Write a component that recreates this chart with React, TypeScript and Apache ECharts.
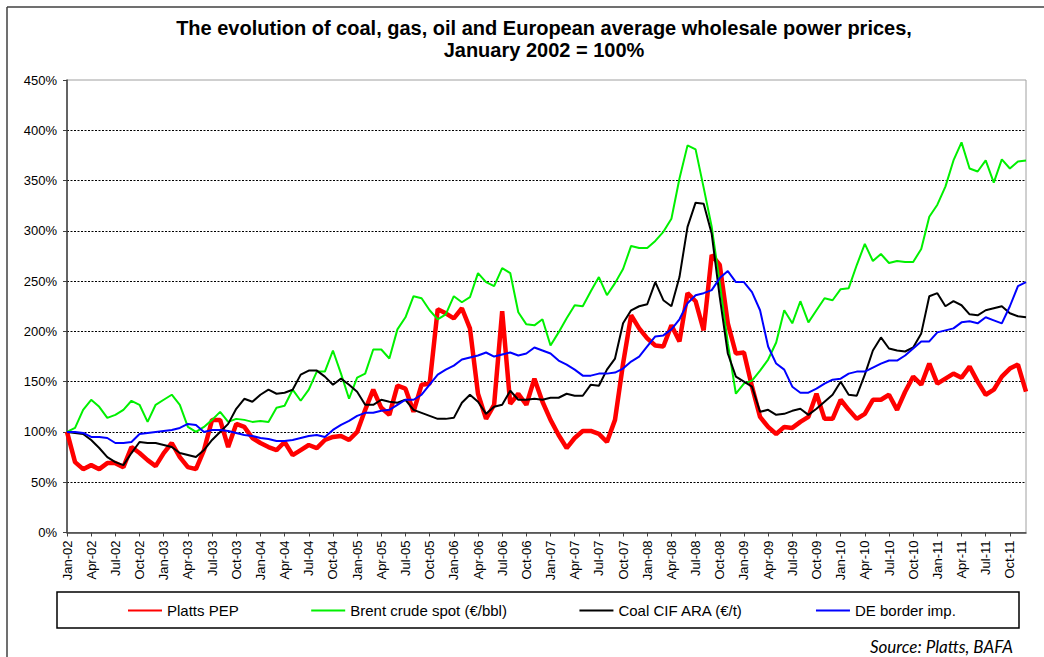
import React, { useEffect, useRef } from 'react';
import * as echarts from 'echarts';

const MONTHS = ['Jan', 'Feb', 'Mar', 'Apr', 'May', 'Jun', 'Jul', 'Aug', 'Sep', 'Oct', 'Nov', 'Dec'];
const YEARS = ['02', '03', '04', '05', '06', '07', '08', '09', '10', '11'];
const categories = YEARS.flatMap((y) => MONTHS.map((m) => `${m}-${y}`));

const plattsPep = [
  100, 70, 63, 67, 63, 69, 69, 65, 85, 79,
  72, 66, 79, 89, 75, 65, 63, 82, 112, 112,
  85, 108, 105, 94, 89, 85, 82, 90, 77, 82,
  87, 84, 92, 95, 96, 92, 100, 122, 142, 124,
  117, 146, 143, 120, 147, 148, 222, 218, 213, 223,
  203, 138, 113, 127, 220, 128, 138, 127, 153, 130,
  112, 97, 84, 94, 101, 101, 98, 90, 112, 168,
  216, 203, 193, 186, 185, 206, 190, 238, 230, 201,
  276, 266, 208, 178, 179, 145, 115, 105, 98, 105,
  104, 110, 115, 138, 113, 113, 132, 122, 113, 118,
  132, 132, 137, 122, 140, 155, 147, 168, 148, 153,
  158, 154, 165, 150, 137, 142, 155, 163, 167, 140,
];

const brentCrude = [
  100, 104, 122, 132, 125, 114, 117, 122, 131, 127,
  110, 127, 132, 137, 127, 105, 100, 105, 112, 120,
  110, 113, 112, 110, 111, 110, 124, 126, 142, 131,
  142, 160, 160, 181, 158, 133, 154, 158, 182, 182,
  173, 202, 214, 235, 233, 221, 212, 217, 235, 229,
  234, 258, 249, 245, 263, 258, 219, 207, 206, 212,
  186, 199, 213, 226, 225, 240, 254, 236, 248, 262,
  285, 283, 283, 290, 299, 312, 352, 385, 381, 343,
  304, 248, 188, 138, 148, 151, 161, 172, 189, 221,
  208, 230, 209, 221, 233, 231, 242, 243, 266, 287,
  270, 277, 268, 270, 269, 269, 282, 314, 326, 344,
  370, 388, 362, 359, 370, 348, 371, 362, 369, 370,
];

const coalCifAra = [
  100, 99, 98, 92, 84, 75, 70, 67, 79, 90,
  89, 89, 87, 85, 79, 77, 75, 82, 92, 100,
  108, 123, 133, 130, 137, 142, 138, 139, 142, 157,
  161, 161, 155, 147, 153, 147, 140, 127, 127, 132,
  130, 129, 132, 122, 119, 116, 113, 113, 114, 129,
  137, 130, 118, 125, 127, 141, 132, 132, 133, 132,
  134, 134, 138, 136, 136, 147, 146, 162, 173, 208,
  221, 225, 227, 249, 231, 225, 254, 304, 328, 327,
  297, 234, 178, 155, 150, 145, 120, 122, 117, 118,
  121, 123, 117, 123, 130, 137, 150, 137, 136, 157,
  181, 194, 183, 181, 180, 184, 198, 235, 238, 225,
  230, 226, 217, 216, 221, 223, 225, 218, 215, 214,
];

const deBorderImp = [
  100, 100, 99, 95, 95, 94, 89, 89, 90, 98,
  99, 100, 101, 102, 104, 108, 107, 100, 102, 102,
  101, 99, 97, 96, 94, 93, 91, 91, 92, 94,
  96, 97, 95, 102, 107, 111, 116, 119, 119, 121,
  122, 127, 132, 132, 137, 147, 157, 162, 166, 172,
  174, 176, 179, 175, 177, 179, 176, 178, 184, 181,
  178, 171, 167, 162, 156, 156, 158, 158, 159, 163,
  170, 175, 185, 195, 196, 202, 212, 228, 236, 238,
  241, 253, 260, 249, 249, 239, 221, 185, 168, 162,
  145, 139, 139, 143, 148, 152, 153, 158, 160, 160,
  164, 168, 171, 171, 176, 183, 190, 190, 199, 201,
  203, 209, 210, 208, 214, 211, 208, 225, 245, 249,
];

const TITLE_LINES = [
  'The evolution of coal, gas, oil and European average wholesale power prices,',
  'January 2002 = 100%',
];
const SOURCE = 'Source: Platts, BAFA';

const FONT = "'Liberation Sans', Arial, sans-serif";

export default function App() {
  const ref = useRef<HTMLDivElement>(null);

  useEffect(() => {
    document.body.style.margin = '0';
    if (!ref.current) return;
    const chart = echarts.init(ref.current, undefined, { renderer: 'svg' });

    const splitColors = ['rgba(0,0,0,0)'];
    for (let k = 1; k < 9; k++) splitColors.push('#000000');
    splitColors.push('rgba(0,0,0,0)');

    chart.setOption({
      animation: false,
      backgroundColor: '#ffffff',
      textStyle: { fontFamily: FONT },
      grid: {
        left: 67,
        right: 18,
        top: 80,
        bottom: 124.5,
        show: true,
        borderColor: '#a0a0a0',
        borderWidth: 1,
        backgroundColor: 'transparent',
      },
      legend: {
        left: 127,
        top: 603,
        padding: 0,
        itemWidth: 34,
        itemHeight: 14,
        itemGap: 71.5,
        itemStyle: { opacity: 0, borderWidth: 0 },
        textStyle: { fontSize: 15, color: '#000', fontFamily: FONT },
        data: ['Platts PEP', 'Brent crude spot (€/bbl)', 'Coal CIF ARA (€/t)', 'DE border imp.'],
      },
      xAxis: {
        type: 'category',
        data: categories,
        boundaryGap: false,
        axisLine: { show: true, lineStyle: { color: '#404040', width: 1.5 } },
        axisTick: { show: true, interval: 2, length: 4, lineStyle: { color: '#404040' } },
        axisLabel: {
          interval: 2,
          rotate: 90,
          fontSize: 13,
          color: '#000',
          fontFamily: FONT,
          margin: 8,
        },
        splitLine: { show: false },
      },
      yAxis: {
        type: 'value',
        min: 0,
        max: 450,
        interval: 50,
        axisLine: { show: true, lineStyle: { color: '#404040', width: 1.5 } },
        axisTick: { show: true, length: 4, lineStyle: { color: '#404040' } },
        axisLabel: { formatter: '{value}%', fontSize: 13, color: '#000', fontFamily: FONT, margin: 10 },
        splitLine: { show: true, lineStyle: { color: splitColors, type: [2, 1.5], width: 1 } },
      },
      series: [
        {
          name: 'Platts PEP',
          type: 'line',
          data: plattsPep,
          symbol: 'none',
          lineStyle: { color: '#ff0000', width: 4.5 },
          itemStyle: { color: '#ff0000' },
        },
        {
          name: 'Brent crude spot (€/bbl)',
          type: 'line',
          data: brentCrude,
          symbol: 'none',
          lineStyle: { color: '#00f000', width: 2 },
          itemStyle: { color: '#00f000' },
        },
        {
          name: 'Coal CIF ARA (€/t)',
          type: 'line',
          data: coalCifAra,
          symbol: 'none',
          lineStyle: { color: '#000000', width: 2 },
          itemStyle: { color: '#000000' },
        },
        {
          name: 'DE border imp.',
          type: 'line',
          data: deBorderImp,
          symbol: 'none',
          lineStyle: { color: '#0000ff', width: 2 },
          itemStyle: { color: '#0000ff' },
        },
      ],
      graphic: [
        {
          type: 'line',
          shape: { x1: 7, y1: 7, x2: 7, y2: 657 },
          style: { stroke: '#404040', lineWidth: 1.5 },
          silent: true,
        },
        {
          type: 'line',
          shape: { x1: 7, y1: 7, x2: 1044, y2: 7 },
          style: { stroke: '#404040', lineWidth: 1.5 },
          silent: true,
        },
        {
          type: 'text',
          x: 544,
          y: 28,
          style: {
            text: TITLE_LINES[0],
            font: `bold 20px ${FONT}`,
            fill: '#000',
            textAlign: 'center',
            textVerticalAlign: 'middle',
          },
        },
        {
          type: 'text',
          x: 544,
          y: 50,
          style: {
            text: TITLE_LINES[1],
            font: `bold 20px ${FONT}`,
            fill: '#000',
            textAlign: 'center',
            textVerticalAlign: 'middle',
          },
        },
        {
          type: 'rect',
          shape: { x: 57, y: 592, width: 962, height: 36 },
          style: { fill: 'none', stroke: '#000', lineWidth: 1.5 },
          silent: true,
        },
        {
          type: 'text',
          x: 1013,
          y: 646,
          style: {
            text: SOURCE,
            font: `italic 17px Lato, 'Open Sans', sans-serif`,
            fill: '#000',
            textAlign: 'right',
            textVerticalAlign: 'middle',
          },
        },
      ],
    });

    return () => {
      chart.dispose();
    };
  }, []);

  return <div ref={ref} style={{ width: 1044, height: 657 }} />;
}
